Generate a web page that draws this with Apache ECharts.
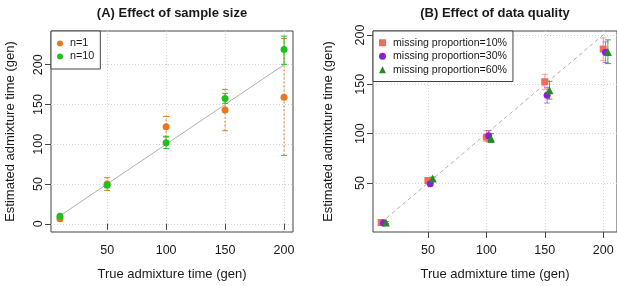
<!DOCTYPE html>
<html>
<head>
<meta charset="utf-8">
<script src="https://cdn.jsdelivr.net/npm/echarts@6/dist/echarts.min.js"></script>
<style>
  html, body { margin: 0; padding: 0; background: #ffffff; }
  #chart { width: 617px; height: 286px; }
</style>
</head>
<body>
<div id="chart"></div>
<script>
// tick values
const xTicks = [50, 100, 150, 200];
const yTicksA = [0, 50, 100, 150, 200];
const yTicksB = [50, 100, 150, 200];

// (A) sample size
const trueTimes = [10, 50, 100, 150, 200];
const n1Est = [6.5, 50, 122, 143, 159];
const n1Lo = [5, 42, 109, 117, 86];
const n1Hi = [8, 58, 135, 169, 233];
const n10Est = [9.5, 48.5, 102, 157.5, 219];
const n10Lo = [8, 46, 94.5, 151.5, 200.5];
const n10Hi = [11, 51, 110, 164, 236];

// (B) data quality, points are shifted a little along x
const pos10 = [10, 50, 100, 150, 200];
const pos30 = [12, 52, 102, 152, 202];
const pos60 = [14, 54, 104, 154, 204];
const miss10Est = [10, 52.6, 96.5, 152.6, 185.7];
const miss10Lo = [9, 51, 92, 145, 174];
const miss10Hi = [11, 54.5, 103, 160, 197];
const miss30Est = [9.5, 49.3, 97.9, 139, 182.4];
const miss30Lo = [8.5, 48, 93, 131, 172];
const miss30Hi = [10.5, 51, 103, 147, 193];
const miss60Est = [10, 54.6, 95.2, 144, 182.7];
const miss60Lo = [9, 53, 91, 135, 171];
const miss60Hi = [11, 56, 100, 153, 195];

const FONT = 'Liberation Sans';
const BOX = '#444444';

function pts(xs, ys) { return xs.map((x, i) => [x, ys[i]]); }
function bars(xs, lo, hi) { return xs.map((x, i) => [x, lo[i], hi[i]]); }

// 误差线
function errorBars(name, idx, data, color, dash) {
  return {
    name: name,
    type: 'custom',
    xAxisIndex: idx,
    yAxisIndex: idx,
    silent: true,
    z: 3,
    encode: { x: 0, y: [1, 2] },
    data: data,
    renderItem: function (params, api) {
      const x = api.value(0);
      const lo = api.coord([x, api.value(1)]);
      const hi = api.coord([x, api.value(2)]);
      const w = 3;
      const style = { stroke: color, lineWidth: 1, lineDash: dash };
      return {
        type: 'group',
        children: [
          { type: 'line', shape: { x1: lo[0], y1: lo[1], x2: hi[0], y2: hi[1] }, style: style },
          { type: 'line', shape: { x1: lo[0] - w, y1: lo[1], x2: lo[0] + w, y2: lo[1] }, style: { stroke: color, lineWidth: 1 } },
          { type: 'line', shape: { x1: hi[0] - w, y1: hi[1], x2: hi[0] + w, y2: hi[1] }, style: { stroke: color, lineWidth: 1 } }
        ]
      };
    }
  };
}

function xAxisOf(idx, min, max) {
  return {
    type: 'value', gridIndex: idx, min: min, max: max,
    name: 'True admixture time (gen)', nameLocation: 'middle', nameGap: 36,
    nameTextStyle: { fontFamily: FONT, fontSize: 13, color: '#1a1a1a' },
    axisLine: { show: false },
    axisTick: { show: true, length: 6, customValues: xTicks, lineStyle: { color: BOX } },
    axisLabel: { customValues: xTicks, margin: 12, fontFamily: FONT, fontSize: 12.5, color: '#1a1a1a' },
    splitLine: { show: true, lineStyle: { color: '#d4d4d4', type: [1, 2] } }
  };
}

function yAxisOf(idx, min, max, ticks, gap) {
  return {
    type: 'value', gridIndex: idx, min: min, max: max,
    name: 'Estimated admixture time (gen)', nameLocation: 'middle', nameGap: gap, nameRotate: 90,
    nameTextStyle: { fontFamily: FONT, fontSize: 13, color: '#1a1a1a' },
    axisLine: { show: false },
    axisTick: { show: true, length: 6, customValues: ticks, lineStyle: { color: BOX } },
    axisLabel: { customValues: ticks, rotate: 90, margin: 5.5, fontFamily: FONT, fontSize: 12.5, color: '#1a1a1a' },
    splitLine: { show: true, lineStyle: { color: '#d4d4d4', type: [1, 2] } }
  };
}

const ORANGE = '#E8771E';
const GREEN = '#1DC21D';
const SALMON = '#F26B5B';
const PURPLE = '#8E1ED6';
const DKGREEN = '#238B23';

const option = {
  animation: false,
  backgroundColor: '#ffffff',
  title: [
    { text: '(A) Effect of sample size', left: 172, top: 7, textAlign: 'center', padding: 0,
      textStyle: { fontFamily: FONT, fontSize: 13, fontWeight: 'bold', color: '#1a1a1a' } },
    { text: '(B) Effect of data quality', left: 495, top: 7, textAlign: 'center', padding: 0,
      textStyle: { fontFamily: FONT, fontSize: 13, fontWeight: 'bold', color: '#1a1a1a' } }
  ],
  grid: [
    { left: 51, top: 31, width: 242, height: 204, show: true, borderColor: BOX, borderWidth: 1, backgroundColor: 'transparent' },
    { left: 373, top: 31, width: 248, height: 204, show: true, borderColor: BOX, borderWidth: 1, backgroundColor: 'transparent' }
  ],
  legend: [
    {
      left: 51, top: 31, orient: 'vertical',
      padding: [6, 6, 6, 6], itemGap: 0, itemWidth: 6, itemHeight: 6,
      borderColor: BOX, borderWidth: 1, backgroundColor: '#fff',
      textStyle: { fontFamily: FONT, fontSize: 10.8, color: '#1a1a1a', lineHeight: 13, padding: [0, 0, 0, 2] },
      data: [{ name: 'n=1', icon: 'circle' }, { name: 'n=10', icon: 'circle' }]
    },
    {
      left: 373, top: 31, orient: 'vertical',
      padding: [5, 6, 5, 6], itemGap: 0, itemWidth: 7, itemHeight: 7,
      borderColor: BOX, borderWidth: 1, backgroundColor: '#fff',
      textStyle: { fontFamily: FONT, fontSize: 10.6, color: '#1a1a1a', lineHeight: 13.5, padding: [0, 0, 0, 2] },
      data: [
        { name: 'missing proportion=10%', icon: 'rect' },
        { name: 'missing proportion=30%', icon: 'circle' },
        { name: 'missing proportion=60%', icon: 'triangle' }
      ]
    }
  ],
  xAxis: [xAxisOf(0, 2.4, 207.6), xAxisOf(1, 3, 211.8)],
  yAxis: [yAxisOf(0, -10.3, 242.4, yTicksA, 34), yAxisOf(1, 0.4, 204, yTicksB, 38)],
  series: [
    {
      name: 'diagA', type: 'line', xAxisIndex: 0, yAxisIndex: 0, symbol: 'none', silent: true, z: 1,
      lineStyle: { color: '#b0b0b0', width: 1 },
      data: [[trueTimes[0], trueTimes[0]], [trueTimes[4], trueTimes[4]]]
    },
    errorBars('errN1', 0, bars(trueTimes, n1Lo, n1Hi), ORANGE, [2, 2]),
    errorBars('errN10', 0, bars(trueTimes, n10Lo, n10Hi), GREEN, null),
    { name: 'n=1', type: 'scatter', xAxisIndex: 0, yAxisIndex: 0, symbol: 'circle', symbolSize: 7, z: 4,
      itemStyle: { color: ORANGE, opacity: 1 }, data: pts(trueTimes, n1Est) },
    { name: 'n=10', type: 'scatter', xAxisIndex: 0, yAxisIndex: 0, symbol: 'circle', symbolSize: 7, z: 4,
      itemStyle: { color: GREEN, opacity: 1 }, data: pts(trueTimes, n10Est) },

    {
      name: 'diagB', type: 'line', xAxisIndex: 1, yAxisIndex: 1, symbol: 'none', silent: true, z: 1,
      lineStyle: { color: '#b0b0b0', width: 1, type: [4, 3] },
      data: [[trueTimes[0], trueTimes[0]], [trueTimes[4], trueTimes[4]]]
    },
    errorBars('err10', 1, bars(pos10, miss10Lo, miss10Hi), 'rgba(242,107,91,0.6)', null),
    errorBars('err30', 1, bars(pos30, miss30Lo, miss30Hi), 'rgba(142,30,214,0.6)', null),
    errorBars('err60', 1, bars(pos60, miss60Lo, miss60Hi), 'rgba(35,139,35,0.8)', null),
    { name: 'missing proportion=10%', type: 'scatter', xAxisIndex: 1, yAxisIndex: 1, symbol: 'rect', symbolSize: 7, z: 4,
      itemStyle: { color: SALMON, opacity: 1 }, data: pts(pos10, miss10Est) },
    { name: 'missing proportion=30%', type: 'scatter', xAxisIndex: 1, yAxisIndex: 1, symbol: 'circle', symbolSize: 7, z: 4,
      itemStyle: { color: PURPLE, opacity: 1 }, data: pts(pos30, miss30Est) },
    { name: 'missing proportion=60%', type: 'scatter', xAxisIndex: 1, yAxisIndex: 1, symbol: 'triangle', symbolSize: 8, z: 4,
      itemStyle: { color: DKGREEN, opacity: 1 }, data: pts(pos60, miss60Est) }
  ]
};

const chart = echarts.init(document.getElementById('chart'));
chart.setOption(option);
</script>
</body>
</html>
